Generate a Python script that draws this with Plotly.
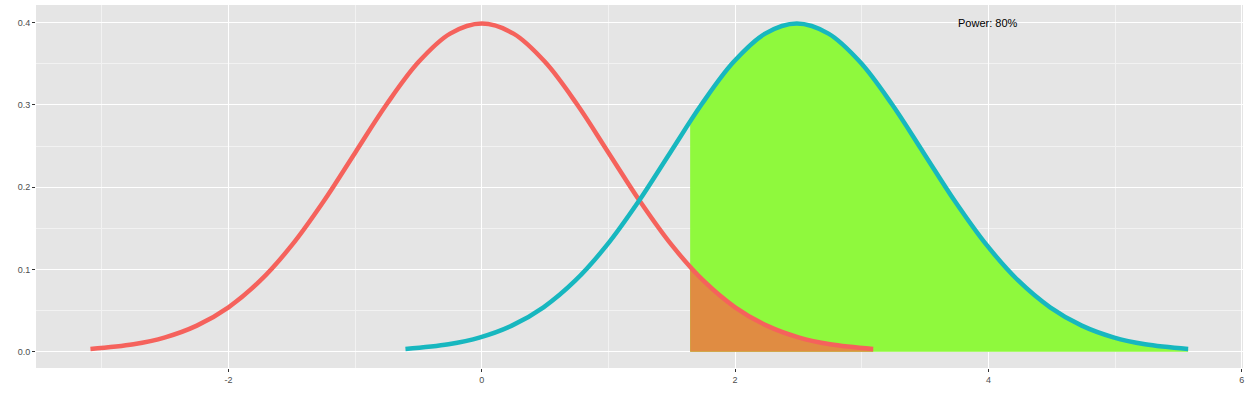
import plotly.graph_objects as go

# Null (H0) distribution curve
null_x = [-3.09, -2.75, -2.5, -2.25, -2.0, -1.75, -1.5, -1.25, -1.0, -0.75, -0.5, -0.25,
          0.0, 0.25, 0.5, 0.75, 1.0, 1.25, 1.5, 1.75, 2.0, 2.25, 2.5, 2.75, 3.09]
null_y = [0.0034, 0.0091, 0.0175, 0.0317, 0.0540, 0.0863, 0.1295, 0.1826, 0.2420, 0.3011,
          0.3521, 0.3867, 0.3989, 0.3867, 0.3521, 0.3011, 0.2420, 0.1826, 0.1295, 0.0863,
          0.0540, 0.0317, 0.0175, 0.0091, 0.0034]

# Alternative (H1) distribution curve
alt_x = [-0.603, -0.263, -0.013, 0.237, 0.487, 0.737, 0.987, 1.237, 1.487, 1.737, 1.987,
         2.237, 2.487, 2.737, 2.987, 3.237, 3.487, 3.737, 3.987, 4.237, 4.487, 4.737,
         4.987, 5.237, 5.577]
alt_y = [0.0034, 0.0091, 0.0175, 0.0317, 0.0540, 0.0863, 0.1295, 0.1826, 0.2420, 0.3011,
         0.3521, 0.3867, 0.3989, 0.3867, 0.3521, 0.3011, 0.2420, 0.1826, 0.1295, 0.0863,
         0.0540, 0.0317, 0.0175, 0.0091, 0.0034]

critical_x = 1.645
null_at_critical = 0.1031
alt_at_critical = 0.2800

x_ticks = [-2, 0, 2, 4, 6]
y_ticks = [0.0, 0.1, 0.2, 0.3, 0.4]
y_tick_labels = ["0.0", "0.1", "0.2", "0.3", "0.4"]
annotation_text = "Power: 80%"
annotation_x = 4
annotation_y = 0.4

RED = "#F5625C"
BLUE = "#17B7BF"

# build fill regions from curve data
green_x = [critical_x] + [x for x in alt_x if x > critical_x]
green_y = [alt_at_critical] + [y for x, y in zip(alt_x, alt_y) if x > critical_x]
orange_x = [critical_x] + [x for x in null_x if x > critical_x]
orange_y = [null_at_critical] + [y for x, y in zip(null_x, null_y) if x > critical_x]

fig = go.Figure()
fig.add_trace(go.Scatter(x=green_x, y=green_y, mode="lines", fill="tozeroy",
                         line=dict(width=0, shape="spline", color="rgba(0,0,0,0)"),
                         fillcolor="#8FF93D", hoverinfo="skip", showlegend=False))
fig.add_trace(go.Scatter(x=orange_x, y=orange_y, mode="lines", fill="tozeroy",
                         line=dict(width=0, shape="spline", color="rgba(0,0,0,0)"),
                         fillcolor="#E08C42", hoverinfo="skip", showlegend=False))
fig.add_trace(go.Scatter(x=null_x, y=null_y, mode="lines",
                         line=dict(width=4.5, shape="spline", color=RED), showlegend=False))
fig.add_trace(go.Scatter(x=alt_x, y=alt_y, mode="lines",
                         line=dict(width=4.5, shape="spline", color=BLUE), showlegend=False))

fig.add_annotation(x=annotation_x, y=annotation_y, text=annotation_text, showarrow=False,
                   font=dict(family="Liberation Sans, Arial, sans-serif", size=11, color="black"),
                   xanchor="center", yanchor="middle")

axis_common = dict(
    showgrid=True, gridcolor="white", gridwidth=1.1, zeroline=False, showline=False,
    ticks="outside", ticklen=3, tickwidth=1, tickcolor="#333333", automargin=False,
    tickfont=dict(family="Liberation Sans, Arial, sans-serif", size=9, color="#4D4D4D"),
)

fig.update_xaxes(range=[-3.52, 6.01], tickvals=x_ticks, ticktext=[str(v) for v in x_ticks],
                 minor=dict(tickvals=[-3, -1, 1, 3, 5], showgrid=True, gridcolor="#F2F2F2",
                            gridwidth=0.6, ticks=""),
                 **axis_common)
fig.update_yaxes(range=[-0.0198, 0.4215], tickvals=y_ticks, ticktext=y_tick_labels,
                 minor=dict(tickvals=[0.05, 0.15, 0.25, 0.35], showgrid=True,
                            gridcolor="#F2F2F2", gridwidth=0.6, ticks=""),
                 **axis_common)

fig.update_layout(
    width=1249, height=400,
    margin=dict(l=36, r=5.5, t=5, b=32),
    plot_bgcolor="#E5E5E5", paper_bgcolor="white",
    showlegend=False,
)

fig.write_html("out.html", config={"displayModeBar": False},
               post_script="document.body.style.margin='0';document.body.style.overflow='hidden';")
